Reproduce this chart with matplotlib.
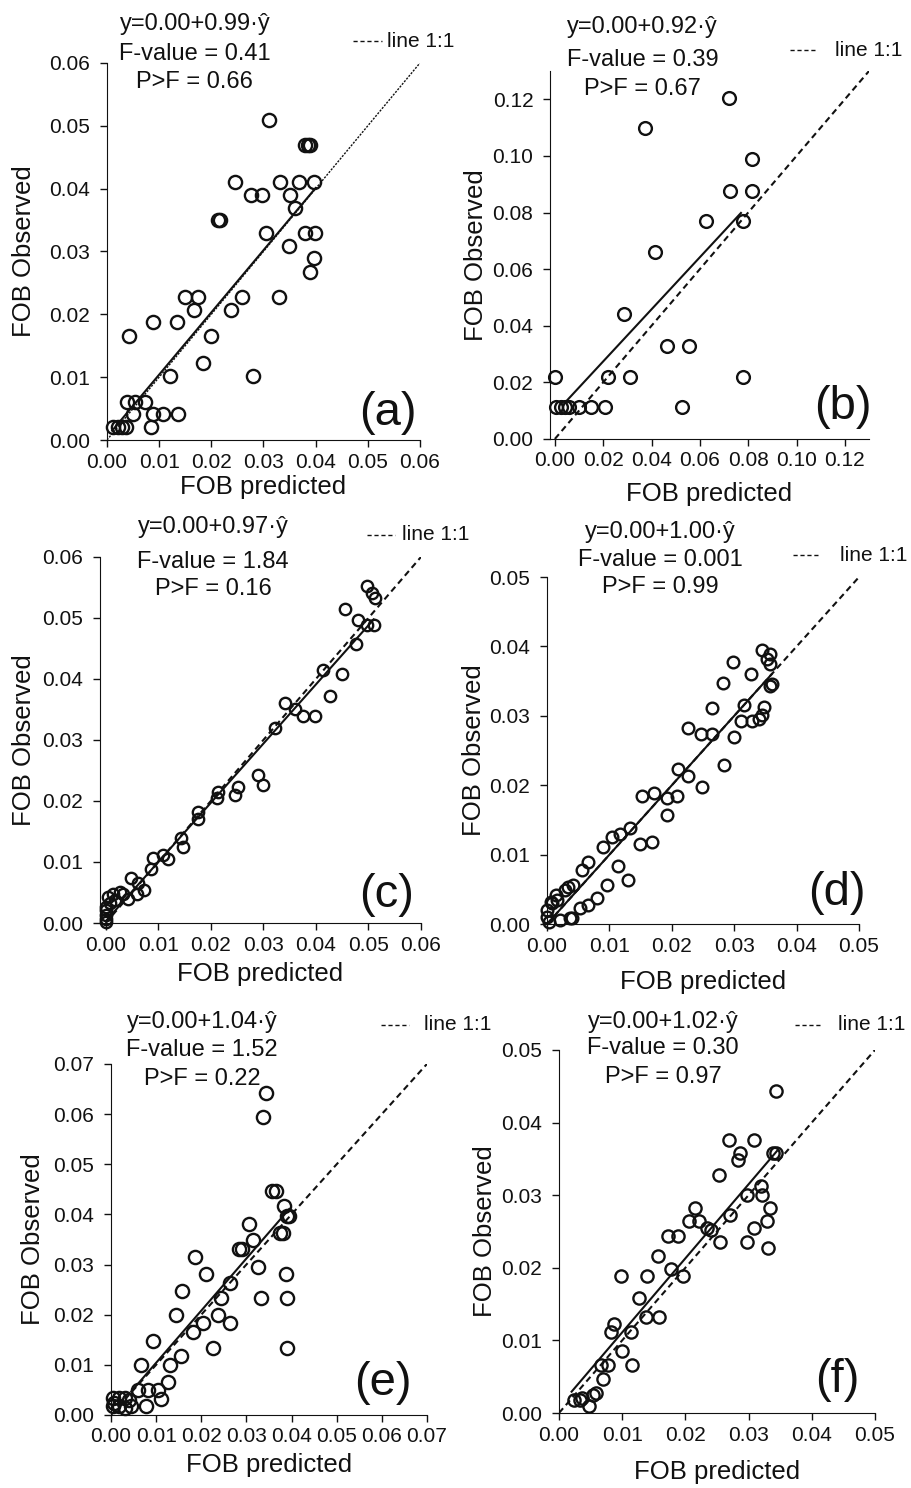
import matplotlib
matplotlib.use('Agg')
from matplotlib import pyplot as plt
from matplotlib.ticker import FormatStrFormatter

plt.rcParams['font.family'] = ['Liberation Sans', 'DejaVu Sans']

# (a)
pred_a = [0.031, 0.038, 0.0385, 0.039, 0.0246, 0.0276, 0.0297, 0.0331, 0.0351, 0.0369, 0.0396, 0.0361,
          0.0212, 0.0217, 0.0304, 0.038, 0.0399, 0.0348, 0.0396, 0.0389, 0.015, 0.0174, 0.0166, 0.0258,
          0.0237, 0.033, 0.0089, 0.0134, 0.0043, 0.020, 0.0184, 0.012, 0.028, 0.0038, 0.0054, 0.0073,
          0.005, 0.0089, 0.0108, 0.0136, 0.0084, 0.0012, 0.0021, 0.0029, 0.0037]
obs_a = [0.051, 0.047, 0.047, 0.047, 0.041, 0.039, 0.039, 0.041, 0.039, 0.041, 0.041, 0.0369,
         0.035, 0.035, 0.0329, 0.0329, 0.0329, 0.0308, 0.029, 0.0268, 0.0227, 0.0227, 0.0207, 0.0227,
         0.0207, 0.0227, 0.0187, 0.0187, 0.0166, 0.0166, 0.0123, 0.0102, 0.0102, 0.0061, 0.0061, 0.0061,
         0.0041, 0.0041, 0.0041, 0.0041, 0.0021, 0.0021, 0.0021, 0.0021, 0.0021]

# (b)
pred_b = [0.0719, 0.0374, 0.0815, 0.0723, 0.0815, 0.0626, 0.078, 0.0416, 0.0285, 0.0464, 0.0557, 0.0,
          0.0219, 0.0312, 0.078, 0.0003, 0.0024, 0.004, 0.0058, 0.0099, 0.0148, 0.0207, 0.0526]
obs_b = [0.1206, 0.1097, 0.0989, 0.0877, 0.0877, 0.077, 0.077, 0.066, 0.044, 0.033, 0.033, 0.022,
         0.022, 0.022, 0.022, 0.0113, 0.0113, 0.0113, 0.0113, 0.0113, 0.0113, 0.0113, 0.0113]

# (c)
pred_c = [0.0497, 0.0507, 0.0513, 0.0456, 0.0481, 0.0497, 0.051, 0.0477, 0.0413, 0.0449, 0.0427, 0.0341,
          0.036, 0.0376, 0.0399, 0.0322, 0.029, 0.030, 0.0252, 0.0246, 0.0214, 0.0211, 0.0176, 0.0176,
          0.0144, 0.0147, 0.0109, 0.0119, 0.009, 0.0087, 0.0048, 0.0062, 0.0073, 0.0059, 0.0043, 0.0033,
          0.0027, 0.0014, 0.0004, 0.0008, 0.0017, 0.0, 0.0, 0.0001, 0.0001, 0.0]
obs_c = [0.0552, 0.0541, 0.0532, 0.0515, 0.0496, 0.0488, 0.0488, 0.0458, 0.0415, 0.0408, 0.0372, 0.0361,
         0.0351, 0.034, 0.034, 0.032, 0.0243, 0.0226, 0.0223, 0.0209, 0.0215, 0.0205, 0.0182, 0.0171,
         0.014, 0.0125, 0.0111, 0.0105, 0.0107, 0.0089, 0.0073, 0.0065, 0.0054, 0.0048, 0.004, 0.0048,
         0.0051, 0.0048, 0.0043, 0.0032, 0.0037, 0.0021, 0.0013, 0.0026, 0.0007, 0.0002]

# (d)
pred_d = [0.0344, 0.0357, 0.0357, 0.0352, 0.0298, 0.0327, 0.0282, 0.036, 0.0357, 0.0315, 0.0347, 0.0264,
          0.0311, 0.0328, 0.0339, 0.0344, 0.0226, 0.0246, 0.0264, 0.0299, 0.0283, 0.021, 0.0226, 0.0248,
          0.0153, 0.0171, 0.0192, 0.0209, 0.0192, 0.0133, 0.0117, 0.0104, 0.0149, 0.0169, 0.009, 0.0066,
          0.0056, 0.0114, 0.013, 0.0096, 0.008, 0.0066, 0.0053, 0.004, 0.0042, 0.0029, 0.0016, 0.0008,
          0.0, 0.0, 0.0021, 0.0003, 0.0037, 0.0034, 0.0014, 0.0007]
obs_d = [0.0395, 0.0389, 0.0375, 0.0382, 0.0377, 0.036, 0.0348, 0.0346, 0.0343, 0.0316, 0.0313, 0.0312,
         0.0293, 0.0293, 0.0296, 0.0301, 0.0282, 0.0274, 0.0274, 0.0269, 0.0229, 0.0223, 0.0214, 0.0197,
         0.0184, 0.0189, 0.0181, 0.0184, 0.0157, 0.0138, 0.013, 0.0126, 0.0116, 0.0118, 0.0111, 0.009,
         0.0078, 0.0083, 0.0063, 0.0056, 0.0037, 0.0027, 0.0023, 0.0008, 0.0056, 0.0049, 0.0035, 0.003,
         0.002, 0.001, 0.0006, 0.0003, 0.0008, 0.0053, 0.0042, 0.0032]

# (e)
pred_e = [0.0343, 0.0337, 0.0356, 0.0365, 0.0384, 0.039, 0.0395, 0.0374, 0.038, 0.0306, 0.0315, 0.0284,
          0.0291, 0.0326, 0.0185, 0.0211, 0.0387, 0.0263, 0.0158, 0.0244, 0.0333, 0.039, 0.0144, 0.0237,
          0.0204, 0.0263, 0.0181, 0.0226, 0.039, 0.0094, 0.0156, 0.013, 0.0126, 0.0067, 0.0059, 0.0081,
          0.0104, 0.011, 0.0078, 0.0004, 0.0018, 0.003, 0.004, 0.0004, 0.0018, 0.003, 0.0044, 0.0007]
obs_e = [0.0643, 0.0594, 0.0447, 0.0447, 0.0416, 0.0396, 0.0396, 0.0363, 0.0363, 0.0381, 0.0348, 0.0331,
         0.0331, 0.0296, 0.0315, 0.0281, 0.0281, 0.0264, 0.0248, 0.0233, 0.0233, 0.0233, 0.02, 0.02,
         0.0183, 0.0183, 0.0166, 0.0133, 0.0133, 0.0148, 0.0118, 0.01, 0.0066, 0.01, 0.005, 0.005,
         0.005, 0.0031, 0.0017, 0.0033, 0.0033, 0.0033, 0.003, 0.0017, 0.0017, 0.0014, 0.0017, 0.0023]

# (f)
pred_f = [0.0343, 0.0269, 0.0308, 0.0286, 0.0283, 0.0339, 0.0343, 0.0254, 0.032, 0.0322, 0.0298, 0.0334,
          0.0216, 0.0205, 0.0222, 0.0235, 0.024, 0.027, 0.0329, 0.0308, 0.0255, 0.0298, 0.0331, 0.0172,
          0.0189, 0.0156, 0.0177, 0.0196, 0.0098, 0.014, 0.0126, 0.0138, 0.0158, 0.0087, 0.0082, 0.0114,
          0.0099, 0.0116, 0.0066, 0.0077, 0.0069, 0.0058, 0.0054, 0.0024, 0.0034, 0.0037, 0.0048]
obs_f = [0.0443, 0.0376, 0.0376, 0.0358, 0.0348, 0.0358, 0.0358, 0.0328, 0.0312, 0.030, 0.030, 0.0282,
         0.0282, 0.0264, 0.0264, 0.0255, 0.0252, 0.0272, 0.0264, 0.0255, 0.0235, 0.0235, 0.0227, 0.0244,
         0.0244, 0.0216, 0.0198, 0.0188, 0.0188, 0.0188, 0.0159, 0.0132, 0.0132, 0.0122, 0.0111, 0.0111,
         0.0085, 0.0066, 0.0066, 0.0066, 0.0047, 0.0028, 0.0025, 0.0018, 0.0018, 0.0021, 0.0009]

panel_labels = ['(a)', '(b)', '(c)', '(d)', '(e)', '(f)']
slopes = [0.99, 0.92, 0.97, 1.00, 1.04, 1.02]
intercepts = [0.0005, 0.009, 0.0003, 0.0, 0.0, 0.0009]
fit_range = [(0.001, 0.040), (0.005, 0.077), (0.0, 0.051), (0.0, 0.036), (0.0045, 0.0395), (0.002, 0.0345)]
f_values = ['0.41', '0.39', '1.84', '0.001', '1.52', '0.30']
p_values = ['0.66', '0.67', '0.16', '0.99', '0.22', '0.97']
axis_max = [0.06, 0.13, 0.06, 0.05, 0.07, 0.05]
tick_step = [0.01, 0.02, 0.01, 0.01, 0.01, 0.01]
tick_max = [0.06, 0.12, 0.06, 0.05, 0.07, 0.05]
x_start = [0.0, -0.002, -0.0011, 0.0, 0.0, 0.0]

preds = [pred_a, pred_b, pred_c, pred_d, pred_e, pred_f]
obss = [obs_a, obs_b, obs_c, obs_d, obs_e, obs_f]

# layout (figure fractions) and text positions (axes fractions)
positions = [[0.1173, 0.7043, 0.3432, 0.2534], [0.6031, 0.7050, 0.3498, 0.2473],
             [0.1096, 0.3797, 0.3520, 0.2460], [0.5998, 0.3790, 0.3421, 0.2332],
             [0.1217, 0.0491, 0.3465, 0.2359], [0.6129, 0.0504, 0.3465, 0.2440]]
eq_pos = [(0.281, [1.104, 1.024, 0.950]), (0.29, [1.120, 1.030, 0.952]), (0.352, [1.082, 0.987, 0.913]),
          (0.362, [1.130, 1.050, 0.972]), (0.288, [1.120, 1.041, 0.958]), (0.329, [1.078, 1.006, 0.926])]
leg_pos = [(0.786, 0.879, 0.894, 1.058), (0.752, 0.837, 0.892, 1.057), (0.833, 0.919, 0.94, 1.06),
           (0.788, 0.875, 0.94, 1.063), (0.854, 0.943, 0.99, 1.111), (0.747, 0.832, 0.883, 1.069)]
lab_pos = [(0.898, 0.072), (0.918, 0.087), (0.894, 0.077), (0.93, 0.089), (0.861, 0.091), (0.88, 0.091)]
ylab_x = [-0.226, -0.194, -0.200, -0.195, -0.209, -0.197]
xlab_y = [-0.093, -0.117, -0.107, -0.132, -0.109, -0.129]
msize = [9.5, 9.2, 8.2, 8.4, 9.5, 8.8]

fig = plt.figure(figsize=(9.12, 14.88), dpi=100)
col = '#111111'

for i in range(6):
    ax = fig.add_axes(positions[i])
    top = axis_max[i]
    # 1:1 line
    if i == 0:
        ax.plot([0, top], [0, top], color=col, lw=1.0, linestyle=(0, (1.5, 1)))
    else:
        ax.plot([0, top], [0, top], color=col, lw=1.5, linestyle=(0, (3, 2)))
    # fitted line
    x0, x1 = fit_range[i]
    ax.plot([x0, x1], [intercepts[i] + slopes[i] * x0, intercepts[i] + slopes[i] * x1], color=col, lw=1.5)
    ax.plot(preds[i], obss[i], 'o', mfc='none', mec=col, mew=1.7, ms=msize[i], clip_on=False)

    ax.set_xlim(x_start[i], top)
    ax.set_ylim(0, top)
    n = int(round(tick_max[i] / tick_step[i]))
    ticks = [k * tick_step[i] for k in range(n + 1)]
    ax.set_xticks(ticks)
    ax.set_yticks(ticks)
    ax.xaxis.set_major_formatter(FormatStrFormatter('%.2f'))
    ax.yaxis.set_major_formatter(FormatStrFormatter('%.2f'))
    ax.spines['top'].set_visible(False)
    ax.spines['right'].set_visible(False)
    ax.spines['left'].set_color(col)
    ax.spines['bottom'].set_color(col)
    ax.tick_params(axis='both', direction='out', length=5, width=1, colors=col, labelsize=15)
    ax.tick_params(axis='x', pad=4)
    ax.tick_params(axis='y', pad=7)

    ax.set_xlabel('FOB predicted', fontsize=18.5, color=col)
    ax.set_ylabel('FOB Observed', fontsize=18.5, color=col)
    ax.xaxis.set_label_coords(0.5, xlab_y[i])
    ax.yaxis.set_label_coords(ylab_x[i], 0.5)

    # equation block
    cx, ys = eq_pos[i]
    lines = ['y=0.00+%.2f\u00b7\u0177' % slopes[i], 'F-value = ' + f_values[i], 'P>F = ' + p_values[i]]
    for t, yy in zip(lines, ys):
        ax.text(cx, yy, t, transform=ax.transAxes, ha='center', va='center', fontsize=17, color=col)

    # legend "line 1:1"
    lx0, lx1, tx, ly = leg_pos[i]
    ax.plot([lx0, lx1], [ly, ly], transform=ax.transAxes, clip_on=False, color=col, lw=1.0,
            linestyle=(0, (3, 2)))
    ax.text(tx, ly, 'line 1:1', transform=ax.transAxes, ha='left', va='center', fontsize=15, color=col)

    ax.text(lab_pos[i][0], lab_pos[i][1], panel_labels[i], transform=ax.transAxes, ha='center',
            va='center', fontsize=34, color=col)

fig.savefig('out.png', dpi=100)
